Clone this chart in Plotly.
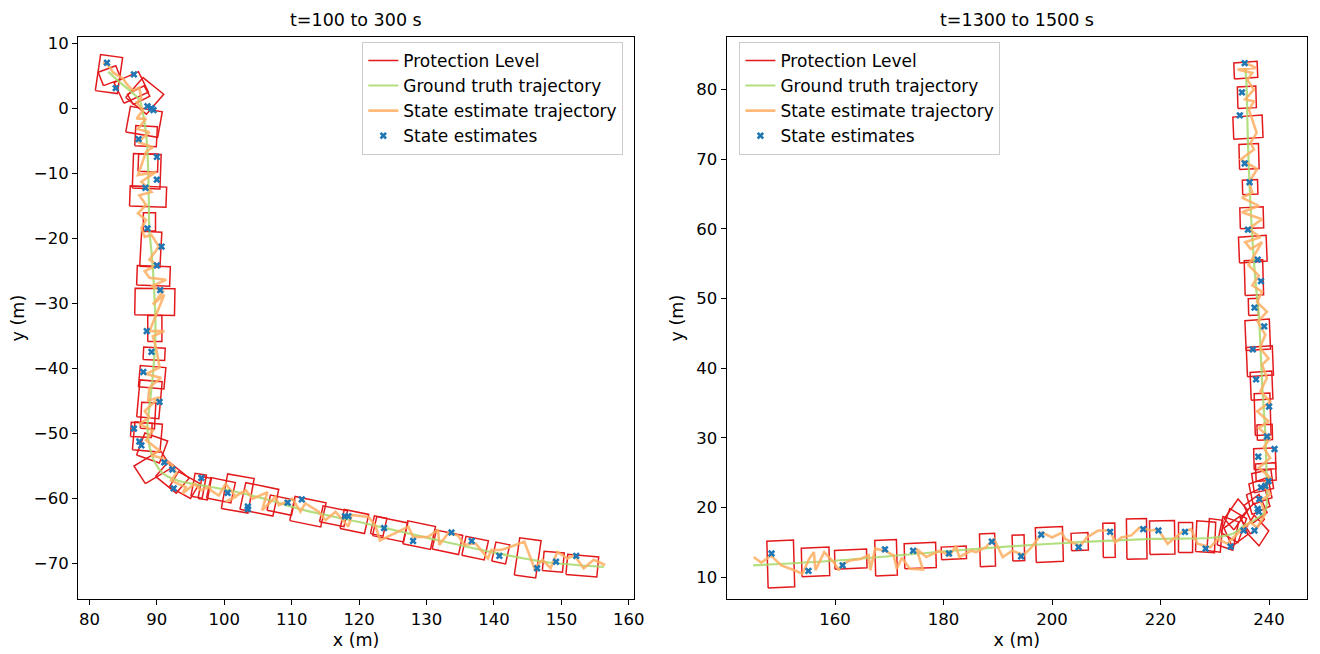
import numpy as np
import plotly.graph_objects as go

# ---------------- Left panel: t=100 to 300 s ----------------
L_gt_x = [82.8, 84.5, 86.2, 87.4, 88.0, 88.5, 88.7, 88.8, 88.9, 89.2, 89.6, 89.8, 89.5, 88.9, 88.6, 88.9,
          89.6, 90.9, 93.1, 95.8, 100.7, 106.6, 112.0, 120.5, 129.7, 139.6, 147.4, 156.3]
L_gt_y = [5.6, 4.0, 2.5, 1.3, -1.1, -5.0, -9.0, -14.0, -19.0, -22.0, -28.0, -34.0, -40.0, -46.0, -49.0, -52.0,
          -54.3, -56.2, -57.3, -57.9, -58.8, -60.3, -61.9, -63.8, -66.0, -68.3, -69.8, -70.6]

L_est_x = [82.0, 82.9, 83.5, 85.0, 85.7, 86.5, 87.4, 87.7, 87.0, 87.9, 87.0, 88.4, 87.2, 88.9, 87.2, 89.4,
           88.4, 87.2, 89.9, 87.7, 89.2, 87.4, 88.4, 87.2, 88.4, 87.7, 88.2, 89.2, 90.3, 88.9, 90.0, 88.2,
           88.9, 91.4, 89.2, 90.9, 89.4, 91.1, 89.7, 88.9, 91.1, 89.4, 89.9, 90.4, 88.4, 90.6, 88.9, 88.7,
           90.4, 88.2, 88.9, 87.4, 89.4, 88.4, 90.4, 89.2, 90.9, 92.4, 92.9, 92.1, 94.3, 93.8, 95.6, 96.5,
           97.8, 98.0, 99.2, 100.2, 101.7, 100.2, 103.2, 104.2, 106.4, 105.6, 107.6, 108.1, 110.1, 111.3,
           112.0, 114.0, 115.0, 116.5, 118.4, 118.9, 121.4, 122.4, 123.1, 125.3, 127.3, 128.0, 130.2, 131.7,
           131.9, 133.2, 134.6, 135.6, 137.3, 139.1, 139.6, 141.0, 142.5, 144.5, 145.5, 146.0, 147.2, 148.4,
           149.4, 150.9, 151.9, 153.3, 154.8, 156.5]
L_est_y = [7.0, 6.5, 5.5, 4.5, 3.5, 2.7, 3.2, 1.4, 0.9, -0.35, -1.6, -1.6, -3.2, -3.7, -5.2, -6.0,
           -6.7, -10.3, -9.8, -11.3, -12.9, -13.4, -14.9, -16.2, -17.2, -18.5, -19.8, -19.5, -21.3, -23.3,
           -24.1, -25.1, -26.1, -26.4, -27.4, -28.2, -30.2, -28.7, -32.3, -34.3, -34.3, -35.1, -36.9, -39.9,
           -40.9, -41.5, -43.0, -45.0, -44.5, -46.6, -47.6, -48.6, -49.6, -51.1, -52.7, -53.4, -53.9, -55.0,
           -56.2, -57.3, -58.3, -59.3, -57.8, -58.8, -58.3, -58.8, -59.6, -57.8, -59.8, -60.6, -58.8, -60.1,
           -59.1, -61.9, -59.8, -61.1, -60.1, -62.1, -60.8, -62.1, -63.4, -62.1, -64.4, -62.6, -62.9, -64.2,
           -66.5, -65.4, -64.4, -66.0, -66.0, -64.9, -67.2, -65.4, -65.7, -67.2, -67.0, -69.3, -68.0, -68.0,
           -67.5, -66.7, -69.5, -70.8, -69.5, -70.8, -68.3, -69.3, -68.8, -70.8, -69.5, -70.3]

L_pts_x = [82.6, 83.9, 86.6, 88.6, 89.2, 89.5, 87.3, 90.0, 90.0, 88.3, 88.6, 90.7, 90.0, 90.5, 88.5, 89.2,
           88.0, 90.4, 86.6, 87.4, 87.7, 91.1, 92.3, 92.5, 96.6, 100.5, 103.5, 103.5, 109.4, 111.5, 117.9,
           118.4, 123.7, 128.0, 133.7, 136.7, 140.8, 146.4, 149.2, 152.2]
L_pts_y = [7.0, 3.1, 5.2, 0.3, 0.0, -0.3, -4.75, -7.5, -11.0, -12.25, -18.5, -21.3, -24.2, -28.0, -34.3,
           -37.5, -40.6, -45.2, -49.3, -51.3, -51.9, -54.5, -55.6, -58.5, -56.9, -59.2, -61.3, -61.7, -60.7,
           -60.2, -62.8, -62.8, -64.6, -66.6, -65.3, -66.6, -68.9, -70.8, -69.8, -68.9]

# protection-level boxes: centre, along-x size, along-y size, rotation (deg)
L_box_cx = [82.9, 83.0, 86.2, 87.3, 88.2, 88.1, 88.4, 88.7, 88.5, 88.7, 88.9, 89.1, 89.5, 89.7, 89.7, 89.6,
            89.3, 88.9, 88.7, 87.7, 88.6, 89.3, 89.4, 92.3, 94.1, 96.2, 97.1, 99.5, 102.0, 105.2, 108.4,
            112.4, 116.2, 119.3, 122.9, 124.6, 128.9, 133.1, 137.2, 141.0, 145.0, 148.8, 153.1]
L_box_cy = [5.25, 5.0, 3.2, 2.0, 1.9, -2.1, -4.3, -8.4, -9.7, -13.6, -17.5, -21.7, -25.8, -29.8, -33.9,
            -37.8, -41.4, -44.8, -47.3, -49.5, -50.6, -52.3, -55.2, -56.8, -58.0, -58.1, -58.5, -58.8, -59.3,
            -60.2, -61.1, -62.1, -62.8, -63.6, -64.3, -64.8, -65.7, -66.8, -67.7, -68.45, -69.2, -69.8, -70.4]
L_box_w = [3.3, 2.8, 4.0, 2.8, 4.0, 4.8, 3.2, 2.9, 4.1, 5.4, 1.8, 3.0, 4.9, 5.9, 2.1, 3.2, 3.8, 3.3, 2.1,
           3.1, 4.1, 3.6, 4.6, 4.0, 3.6, 1.7, 1.4, 3.7, 4.0, 5.0, 3.7, 4.7, 3.7, 3.7, 1.9, 4.7, 4.2, 4.0,
           3.4, 2.1, 3.2, 3.0, 4.6]
L_box_h = [5.6, 2.2, 3.5, 1.8, 4.0, 4.0, 3.1, 2.7, 5.3, 3.1, 2.8, 5.4, 3.0, 4.1, 4.0, 1.9, 3.3, 5.7, 4.0,
           2.2, 4.3, 3.6, 3.2, 3.0, 2.7, 3.6, 3.4, 3.2, 5.4, 4.2, 2.4, 3.8, 2.5, 3.0, 2.8, 3.0, 3.6, 3.0,
           3.0, 3.0, 5.8, 3.0, 3.1]
L_box_ang = [-8, 21, 25, 28, -40, -10, -3, -2, -2, -2, 0, -3, -2, -1, 0, -3, -5, -5, -3, -3, -5, -20, 32,
             -40, -30, -10, -10, -12, -10, -12, -12, -12, -12, -12, -12, -12, -12, -12, -12, -12, -8, -5, -5]

# ---------------- Right panel: t=1300 to 1500 s ----------------
R_gt_x = [144.9, 160.4, 181.7, 200.0, 218.3, 229.9, 233.5, 235.4, 237.5, 239.3, 239.6, 239.5, 239.3,
          238.7, 238.1, 237.5, 236.6, 236.1, 235.8, 235.6]
R_gt_y = [11.7, 12.4, 13.8, 14.8, 15.5, 15.7, 16.3, 17.4, 18.3, 19.5, 22.0, 26.0, 30.5, 38.1, 47.6, 52.4,
          62.9, 72.4, 81.4, 83.1]

R_est_x = [145.0, 146.4, 148.2, 150.1, 152.5, 154.0, 155.2, 156.1, 156.4, 158.0, 159.8, 160.7, 161.3,
           162.8, 164.7, 166.2, 166.5, 167.4, 169.2, 170.8, 171.4, 172.3, 173.8, 176.2, 175.0, 176.8,
           179.3, 181.1, 182.3, 182.9, 185.1, 186.0, 187.8, 189.3, 190.9, 192.7, 194.8, 196.3, 198.2,
           200.0, 201.8, 202.4, 203.7, 205.2, 206.4, 208.5, 210.7, 211.6, 212.8, 214.6, 216.1, 218.3,
           219.5, 221.3, 223.8, 225.6, 226.8, 229.2, 230.5, 232.3, 234.1, 235.3, 236.6, 237.8, 239.3,
           238.4, 240.2, 239.0, 240.2, 238.1, 240.2, 239.0, 240.2, 238.1, 239.9, 237.8, 240.2, 238.4,
           239.6, 238.7, 239.9, 238.3, 239.3, 237.9, 239.6, 237.8, 238.7, 236.9, 238.1, 236.2, 238.7,
           236.6, 235.6, 238.4, 236.2, 238.7, 235.0, 238.1, 235.0, 236.9, 236.3, 237.8, 234.8, 237.2,
           236.6, 237.7, 236.3, 237.2, 235.6, 237.2, 236.0, 236.9, 234.2, 237.6, 235.8]
R_est_y = [12.9, 12.1, 13.1, 11.7, 11.0, 10.5, 12.6, 13.6, 11.0, 13.6, 12.1, 11.0, 11.9, 12.4, 12.6,
           13.2, 11.0, 14.1, 13.8, 13.1, 11.2, 12.8, 11.2, 11.1, 14.1, 12.9, 13.8, 13.1, 14.5, 12.9, 13.8,
           13.6, 14.3, 15.5, 12.9, 13.8, 13.2, 14.4, 16.4, 15.7, 16.4, 15.5, 15.0, 14.5, 15.7, 16.7, 16.7,
           15.0, 15.7, 16.0, 17.1, 16.7, 16.9, 14.8, 16.4, 16.9, 14.8, 14.3, 15.5, 14.8, 16.2, 17.1, 17.9,
           17.1, 19.1, 21.0, 21.9, 23.3, 24.3, 25.7, 27.1, 28.6, 30.0, 31.4, 32.4, 33.8, 35.2, 36.7, 38.6,
           40.5, 41.4, 42.9, 44.8, 46.7, 48.1, 49.5, 51.0, 51.9, 53.3, 54.8, 58.1, 57.1, 58.1, 58.8, 60.0,
           61.4, 62.4, 63.3, 64.5, 65.2, 66.7, 68.6, 70.0, 71.4, 72.4, 73.8, 77.1, 78.3, 78.6, 80.0, 81.4,
           82.4, 82.9, 83.1, 83.8]

R_pts_x = [148.3, 155.1, 161.4, 169.2, 174.4, 181.0, 188.9, 194.3, 198.0, 204.9, 210.7, 216.8, 219.6,
           224.5, 228.3, 232.9, 235.3, 237.3, 238.1, 237.9, 238.2, 239.3, 238.5, 239.9, 238.0, 241.0,
           239.6, 240.0, 237.6, 237.0, 239.1, 237.3, 238.5, 237.9, 236.1, 236.4, 235.5, 234.6, 235.0, 235.5]
R_pts_y = [13.4, 10.9, 11.7, 14.0, 13.8, 13.4, 15.1, 13.0, 16.1, 14.3, 16.5, 16.9, 16.7, 16.5, 14.1,
           14.4, 16.7, 16.7, 19.4, 19.8, 21.2, 23.1, 22.9, 23.8, 27.3, 28.4, 30.2, 34.5, 38.4, 42.7, 46.0,
           48.7, 52.5, 55.6, 59.9, 66.7, 69.4, 76.3, 79.6, 83.8]

R_box_cx = [150.0, 156.4, 162.9, 169.4, 175.7, 181.9, 188.1, 193.8, 199.5, 205.1, 210.5, 215.6, 220.3,
            224.6, 228.3, 230.0, 232.4, 233.5, 233.9, 233.9, 237.7, 236.9, 237.5, 238.0, 238.4, 238.8,
            239.4, 239.2, 239.2, 238.8, 238.6, 238.3, 237.9, 237.1, 237.2, 237.0, 236.8, 236.5, 236.3,
            236.1, 235.9, 235.7]
R_box_cy = [11.9, 12.2, 12.6, 12.8, 13.1, 13.5, 13.9, 14.2, 14.7, 15.1, 15.3, 15.5, 15.7, 15.7, 15.8,
            16.0, 16.3, 17.4, 16.6, 19.0, 16.7, 18.4, 19.8, 21.0, 22.4, 23.8, 25.1, 27.0, 30.8, 33.4, 37.5,
            41.0, 44.8, 48.8, 53.0, 57.1, 61.6, 66.0, 70.4, 74.6, 78.9, 82.8]
R_box_w = [4.9, 5.1, 5.9, 4.0, 5.8, 4.6, 2.8, 2.2, 5.0, 3.1, 2.2, 3.7, 4.6, 2.6, 3.5, 2.5, 3.0, 3.4, 3.4,
           3.8, 3.5, 3.3, 3.2, 3.5, 3.6, 3.6, 3.7, 4.0, 2.8, 2.9, 4.0, 4.8, 4.5, 1.8, 3.4, 5.1, 4.3, 2.8,
           3.6, 5.4, 3.4, 4.3]
R_box_h = [6.7, 4.1, 2.7, 5.1, 3.6, 1.8, 4.7, 3.7, 5.0, 2.5, 4.9, 5.8, 4.8, 4.3, 4.4, 4.6, 4.2, 3.8, 3.0,
           2.4, 2.8, 3.0, 3.0, 3.0, 3.0, 2.8, 2.5, 3.0, 2.2, 6.0, 4.0, 4.2, 4.3, 2.4, 5.0, 3.7, 3.0, 2.1,
           3.6, 3.2, 3.1, 2.3]
R_box_ang = [2, 2, 2, 2, 2, 2, 2, 2, 2, 2, 1, 1, 1, 0, -3, -6, -15, -25, 30, 48, -40, 40, 30, 20, 15, 10,
             3, 2, 2, 2, 3, 3, 3, 2, 2, 3, 2, 2, 2, 3, 2, 3]

RED = "#e31a1c"
GREEN = "rgba(166,217,106,0.85)"
ORANGE = "rgba(253,174,97,0.85)"
BLUE = "#1f77b4"
FONT = "DejaVu Sans"


def box_outline(cx, cy, w, h, ang):
    xs, ys = [], []
    for x0, y0, ww, hh, a in zip(cx, cy, w, h, ang):
        t = np.radians(a)
        c, s = np.cos(t), np.sin(t)
        for dx, dy in [(-ww / 2, -hh / 2), (ww / 2, -hh / 2), (ww / 2, hh / 2), (-ww / 2, hh / 2), (-ww / 2, -hh / 2)]:
            xs.append(x0 + dx * c - dy * s)
            ys.append(y0 + dx * s + dy * c)
        xs.append(None)
        ys.append(None)
    return xs, ys


fig = go.Figure()

panels = [
    ("x", "y", "legend", L_box_cx, L_box_cy, L_box_w, L_box_h, L_box_ang, L_gt_x, L_gt_y, L_est_x, L_est_y, L_pts_x, L_pts_y),
    ("x2", "y2", "legend2", R_box_cx, R_box_cy, R_box_w, R_box_h, R_box_ang, R_gt_x, R_gt_y, R_est_x, R_est_y, R_pts_x, R_pts_y),
]

for xa, ya, lg, bcx, bcy, bw, bh, ba, gx, gy, ex, ey, px, py in panels:
    bx, by = box_outline(bcx, bcy, bw, bh, ba)
    fig.add_trace(go.Scatter(x=bx, y=by, mode="lines", line=dict(color=RED, width=1.5),
                             name="Protection Level", xaxis=xa, yaxis=ya, legend=lg))
    fig.add_trace(go.Scatter(x=gx, y=gy, mode="lines", line=dict(color=GREEN, width=2.2, shape="spline"),
                             name="Ground truth trajectory", xaxis=xa, yaxis=ya, legend=lg))
    fig.add_trace(go.Scatter(x=ex, y=ey, mode="lines", line=dict(color=ORANGE, width=2.6),
                             name="State estimate trajectory", xaxis=xa, yaxis=ya, legend=lg))
    fig.add_trace(go.Scatter(x=px, y=py, mode="markers", marker=dict(color=BLUE, symbol="x", size=6.5),
                             name="State estimates", xaxis=xa, yaxis=ya, legend=lg))

W, H = 1320, 654
OFF = 8  # page body margin
ytop, ybot = 34.5 - OFF, 598.5 - OFF
ydom = [1 - ybot / H, 1 - ytop / H]

axis_common = dict(showgrid=False, zeroline=False, showline=True, mirror=True, linecolor="black",
                   linewidth=1, ticks="outside", ticklen=5, tickwidth=1, tickcolor="black",
                   tickfont=dict(family=FONT, size=16.5, color="black"))

leg_common = dict(xanchor="left", yanchor="top", bgcolor="rgba(255,255,255,0.8)",
                  bordercolor="#cccccc", borderwidth=1, font=dict(family=FONT, size=17), tracegroupgap=0)

fig.update_layout(
    width=W, height=H, margin=dict(l=0, r=0, t=0, b=0),
    paper_bgcolor="white", plot_bgcolor="white",
    font=dict(family=FONT, size=16.5, color="black"),
    xaxis=dict(domain=[(78.5 - OFF) / W, (639 - OFF) / W], range=[78.3, 160.8], tick0=80, dtick=10, anchor="y",
               title=dict(text="x (m)", font=dict(size=17.5), standoff=6), **axis_common),
    yaxis=dict(domain=ydom, range=[-75.5, 10.9], tick0=0, dtick=10, anchor="x",
               title=dict(text="y (m)", font=dict(size=17.5), standoff=8), **axis_common),
    xaxis2=dict(domain=[(732 - OFF) / W, (1317 - OFF) / W], range=[140.0, 247.0], tickvals=[160, 180, 200, 220, 240],
                anchor="y2", title=dict(text="x (m)", font=dict(size=17.5), standoff=6), **axis_common),
    yaxis2=dict(domain=ydom, range=[6.9, 87.5], tick0=10, dtick=10, anchor="x2",
                title=dict(text="y (m)", font=dict(size=17.5), standoff=8), **axis_common),
    legend=dict(x=(365 - OFF) / W, y=1 - (39 - OFF) / H, **leg_common),
    legend2=dict(x=(745 - OFF) / W, y=1 - (39 - OFF) / H, **leg_common),
    annotations=[
        dict(text="t=100 to 300 s", x=((78.5 + 639) / 2 - OFF) / W, y=1 - (17 - OFF) / H, xref="paper", yref="paper",
             showarrow=False, font=dict(family=FONT, size=17.5), xanchor="center", yanchor="middle"),
        dict(text="t=1300 to 1500 s", x=((732 + 1317) / 2 - OFF) / W, y=1 - (17 - OFF) / H, xref="paper", yref="paper",
             showarrow=False, font=dict(family=FONT, size=17.5), xanchor="center", yanchor="middle"),
    ],
)

fig.write_html("out.html")
